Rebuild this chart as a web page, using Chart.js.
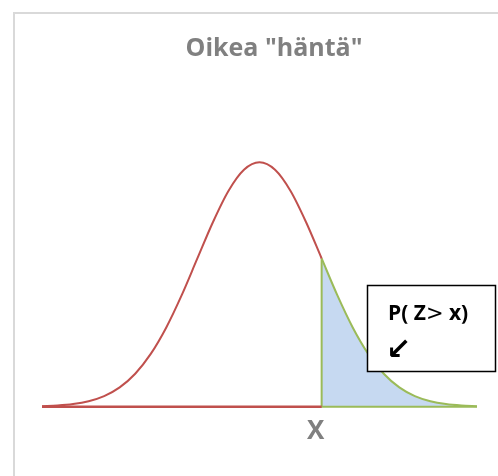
<!DOCTYPE html>
<html>
<head>
<meta charset="utf-8">
<script src="https://cdn.jsdelivr.net/npm/chart.js@4/dist/chart.umd.min.js"></script>
<style>
  html, body { margin: 0; padding: 0; background: #fff; }
  #wrap { width: 498px; height: 476px; }
</style>
</head>
<body>
<div id="wrap"><canvas id="chart" width="498" height="476"></canvas></div>
<script>
// Standard normal curve: z positions and density heights
const zValues = [-3.5, -3.25, -3, -2.75, -2.5, -2.25, -2, -1.75, -1.5, -1.25, -1, -0.75, -0.5, -0.25,
                 0, 0.25, 0.5, 0.75, 1, 1.25, 1.5, 1.75, 2, 2.25, 2.5, 2.75, 3, 3.25, 3.5];
const density = [0.0009, 0.0020, 0.0044, 0.0091, 0.0175, 0.0317, 0.0540, 0.0863, 0.1295, 0.1826, 0.2420, 0.3011, 0.3521, 0.3867,
                 0.3989, 0.3867, 0.3521, 0.3011, 0.2420, 0.1826, 0.1295, 0.0863, 0.0540, 0.0317, 0.0175, 0.0091, 0.0044, 0.0020, 0.0009];
// Right tail starts at this z value
const cutValue = 1;
const axisLabel = 'X';
const titleText = 'Oikea "häntä"';
const calloutParts = ['P( Z', '>', ' x)'];
const calloutArrow = '↙';

const curve = zValues.map((z, i) => ({ x: z, y: density[i] }));
const leftPart = curve.filter(p => p.x <= cutValue);
const tailPart = curve.filter(p => p.x >= cutValue);
const cutHeight = density[zValues.indexOf(cutValue)];
const zMin = zValues[0], zMax = zValues[zValues.length - 1];

const RED = '#c0504d', GREEN = '#9bbb59', BLUE = '#c6d9f1';

const decor = {
  id: 'decor',
  beforeDraw(chart) {
    const ctx = chart.ctx;
    ctx.save();
    ctx.fillStyle = '#fff';
    ctx.fillRect(0, 0, chart.width, chart.height);
    ctx.strokeStyle = '#d9d9d9';
    ctx.lineWidth = 2;
    ctx.strokeRect(14, 13, 600, 600);
    ctx.restore();
  },
  afterDatasetsDraw(chart) {
    const ctx = chart.ctx;
    ctx.save();
    // title
    ctx.font = 'bold 25px "Open Sans"';
    ctx.fillStyle = '#808080';
    ctx.textAlign = 'center';
    ctx.textBaseline = 'alphabetic';
    ctx.fillText(titleText, 274, 56);

    // callout box
    ctx.fillStyle = '#fff';
    ctx.fillRect(367, 285, 129, 87);
    ctx.strokeStyle = '#000';
    ctx.lineWidth = 1.5;
    ctx.strokeRect(367.5, 285.5, 128, 86);

    ctx.fillStyle = '#000';
    ctx.textAlign = 'left';
    let x = 388;
    const fonts = ['bold 21px "Open Sans"', '21px "DejaVu Sans"', 'bold 21px "Open Sans"'];
    calloutParts.forEach((t, i) => {
      ctx.font = fonts[i];
      ctx.fillText(t, x, 320);
      x += ctx.measureText(t).width;
    });
    ctx.font = 'bold 30px "DejaVu Sans"';
    ctx.fillText(calloutArrow, 386, 359);
    ctx.restore();
  }
};

new Chart(document.getElementById('chart'), {
  type: 'line',
  data: {
    datasets: [
      {
        data: leftPart, borderColor: RED, borderWidth: 2, pointRadius: 0,
        cubicInterpolationMode: 'monotone', fill: false, clip: false, order: 1
      },
      {
        data: [{ x: zMin, y: 0 }, { x: cutValue, y: 0 }], borderColor: RED, borderWidth: 2.5,
        pointRadius: 0, tension: 0, fill: false, clip: false, order: 1
      },
      {
        data: tailPart, borderColor: GREEN, backgroundColor: BLUE, borderWidth: 2, pointRadius: 0,
        cubicInterpolationMode: 'monotone', fill: 'origin', clip: false, order: 3
      },
      {
        data: [{ x: zMax, y: 0 }, { x: cutValue, y: 0 }, { x: cutValue, y: cutHeight }],
        borderColor: GREEN, borderWidth: 2, pointRadius: 0, tension: 0, fill: false, clip: false, order: 2
      }
    ]
  },
  options: {
    responsive: false,
    animation: false,
    layout: { padding: { left: 42, right: 21, top: 131, bottom: 20 } },
    plugins: { legend: { display: false }, title: { display: false }, tooltip: { enabled: false } },
    scales: {
      x: {
        type: 'linear', min: zMin, max: zMax,
        grid: { display: false, drawTicks: false }, border: { display: false },
        afterBuildTicks: axis => { axis.ticks = [{ value: cutValue }]; },
        ticks: {
          callback: () => axisLabel, padding: 9, labelOffset: -6, maxRotation: 0, autoSkip: false,
          color: '#808080', font: { family: '"Open Sans"', size: 26, weight: 'bold' }
        }
      },
      y: { display: false, min: 0, max: 0.45 }
    }
  },
  plugins: [decor]
});
</script>
</body>
</html>
